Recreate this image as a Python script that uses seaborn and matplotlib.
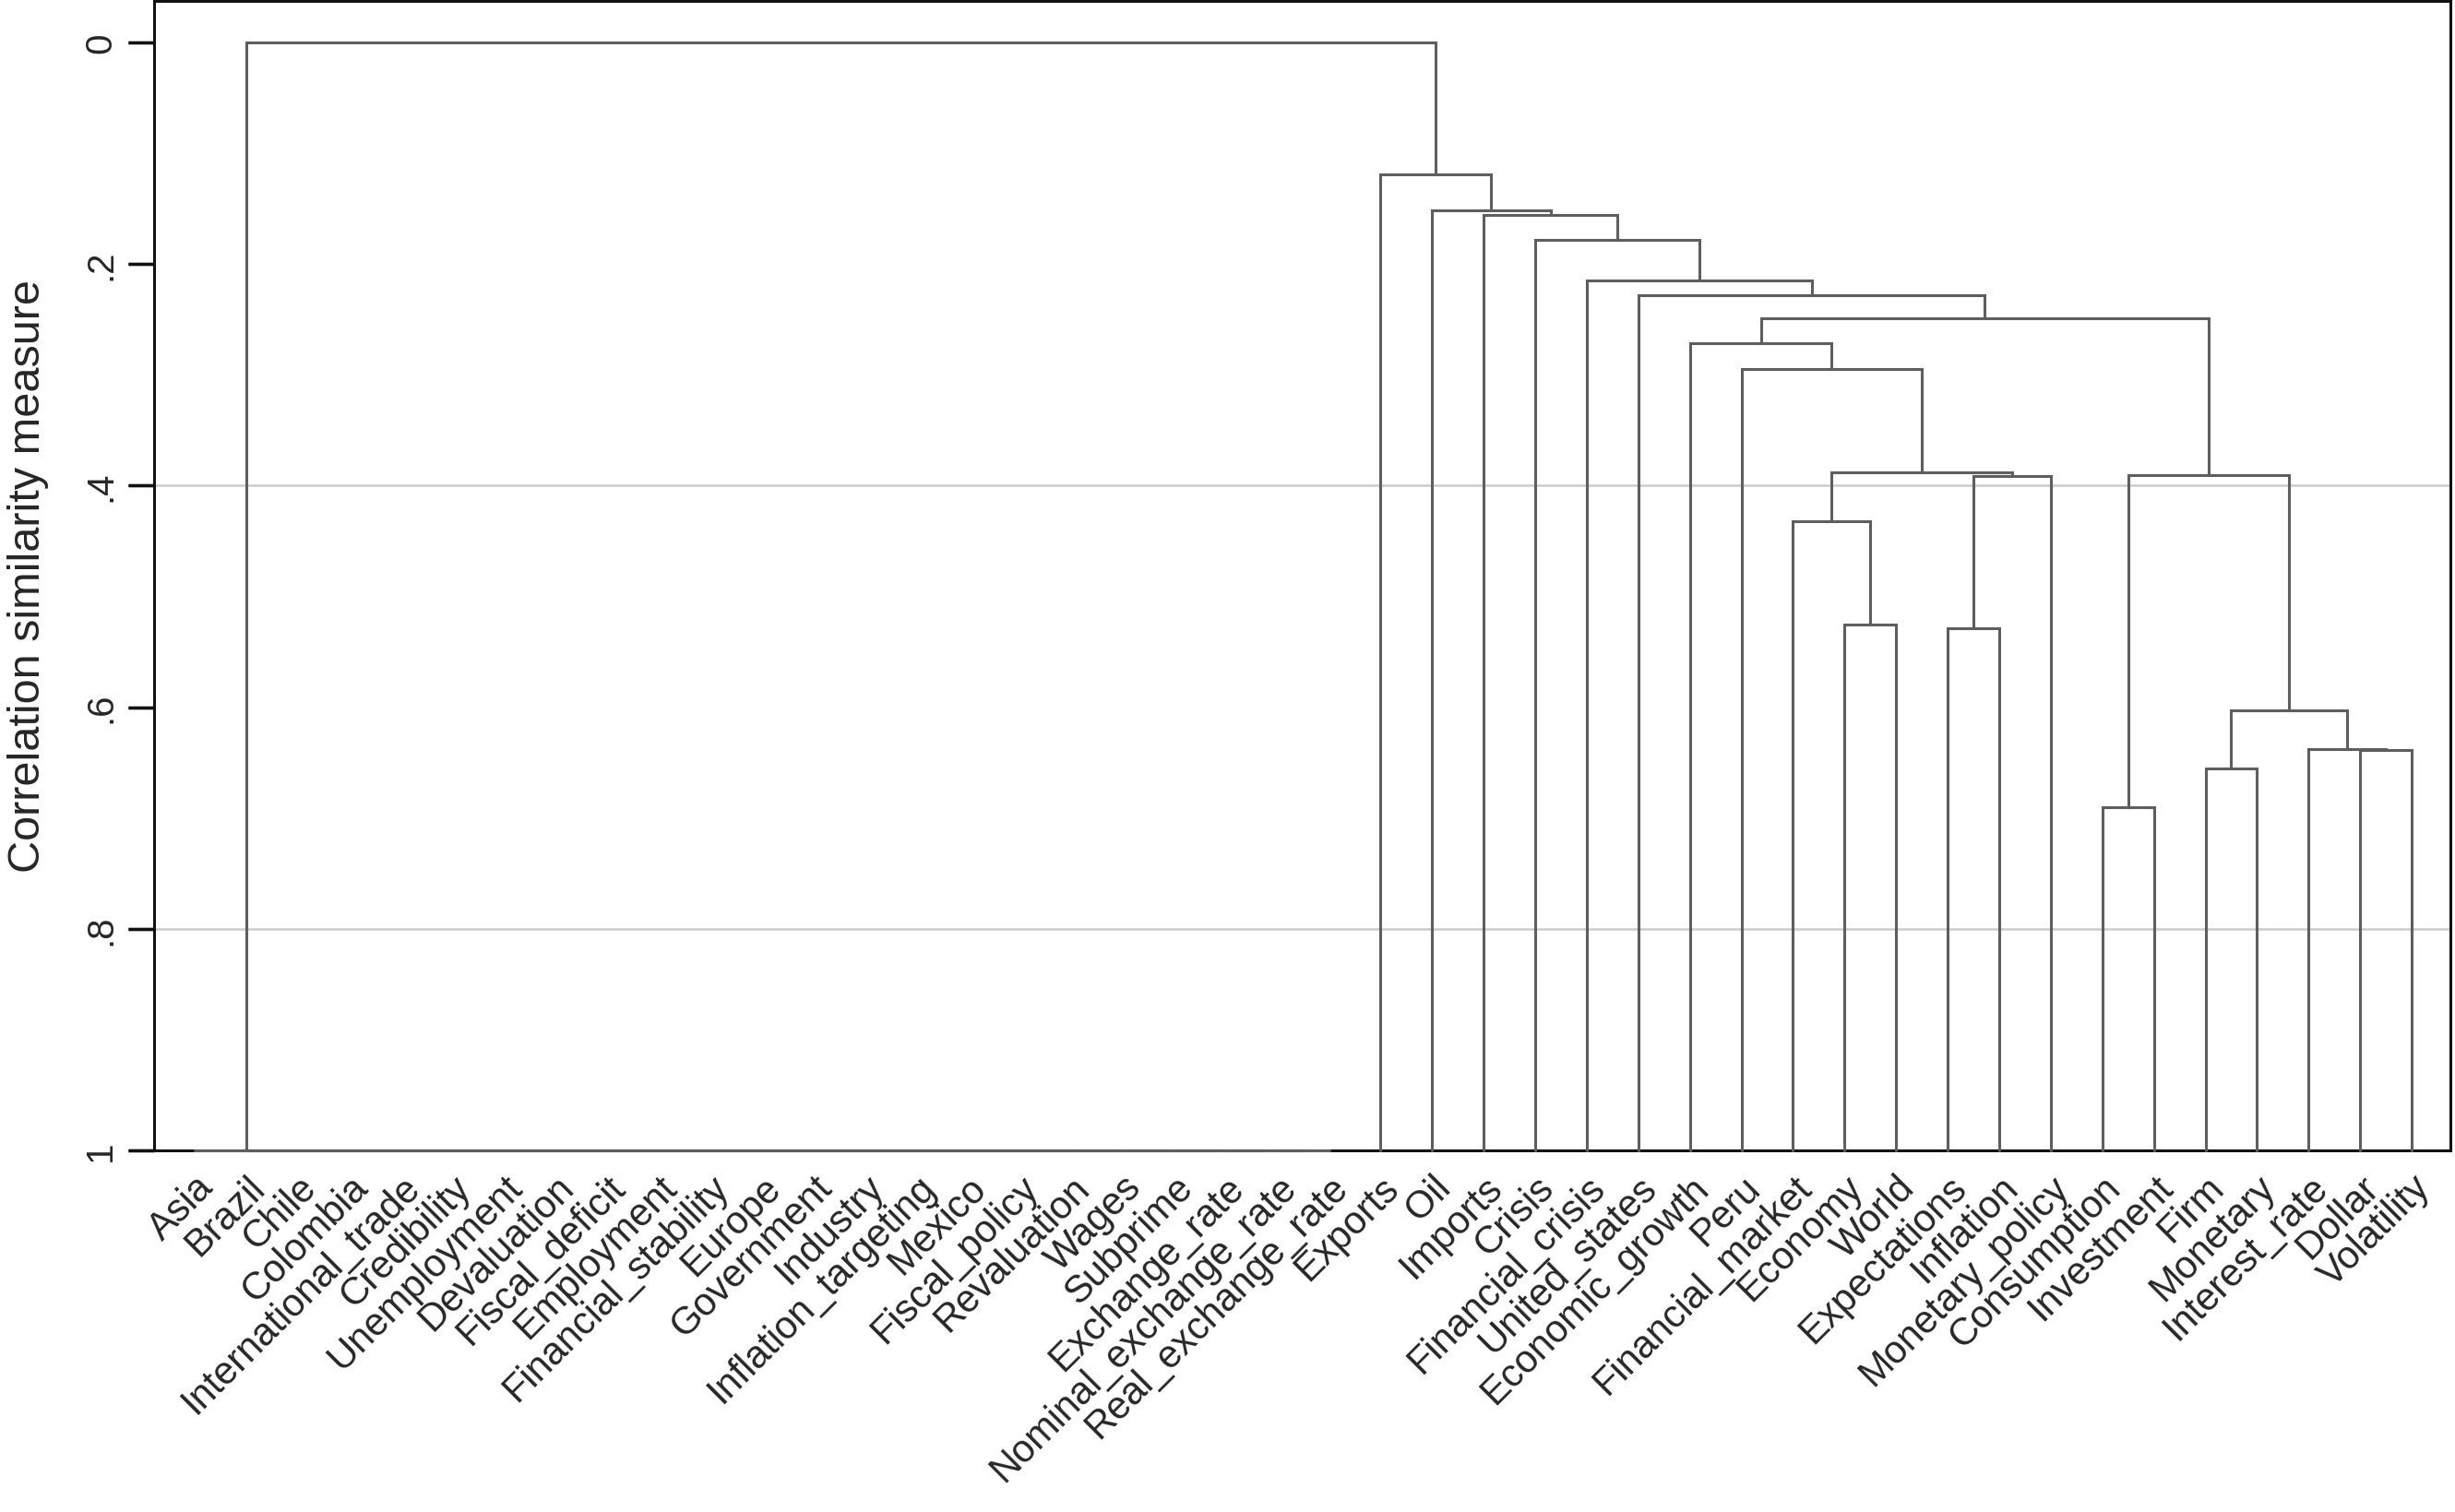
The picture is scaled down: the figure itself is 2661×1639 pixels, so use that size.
import seaborn as sns
import matplotlib.pyplot as plt
import pandas as pd

# leaf order along the x axis
terms = ['Asia', 'Brazil', 'Chile', 'Colombia', 'International_trade', 'Credibility',
         'Unemployment', 'Devaluation', 'Fiscal_deficit', 'Employment',
         'Financial_stability', 'Europe', 'Government', 'Industry', 'Inflation_targeting',
         'Mexico', 'Fiscal_policy', 'Revaluation', 'Wages', 'Subprime', 'Exchange_rate',
         'Nominal_exchange_rate', 'Real_exchange_rate', 'Exports', 'Oil', 'Imports',
         'Crisis', 'Financial_crisis', 'United_states', 'Economic_growth', 'Peru',
         'Financial_market', 'Economy', 'World', 'Expectations', 'Inflation',
         'Monetary_policy', 'Consumption', 'Investment', 'Firm', 'Monetary',
         'Interest_rate', 'Dollar', 'Volatility']

# first 23 terms all sit together at similarity 1
flat_terms = terms[:23]
flat_sim = 1.0

# other joins, bottom up: (left, right, similarity). Gk = k-th join of this list
joins = [
    ('Economy', 'World', 0.525),             # G0
    ('Expectations', 'Inflation', 0.529),    # G1
    ('Dollar', 'Volatility', 0.6385),        # G2
    ('Interest_rate', 'G2', 0.638),          # G3
    ('Firm', 'Monetary', 0.655),             # G4
    ('Consumption', 'Investment', 0.690),    # G5
    ('G4', 'G3', 0.6026),                    # G6
    ('G5', 'G6', 0.3906),                    # G7
    ('Financial_market', 'G0', 0.432),       # G8
    ('G1', 'Monetary_policy', 0.391),        # G9
    ('G8', 'G9', 0.388),                     # G10
    ('Peru', 'G10', 0.2947),                 # G11
    ('Economic_growth', 'G11', 0.2712),      # G12
    ('G12', 'G7', 0.2486),                   # G13
    ('United_states', 'G13', 0.2281),        # G14
    ('Financial_crisis', 'G14', 0.2151),     # G15
    ('Crisis', 'G15', 0.1782),               # G16
    ('Imports', 'G16', 0.156),               # G17
    ('Oil', 'G17', 0.1513),                  # G18
    ('Exports', 'G18', 0.1193),              # G19
    ('FLAT', 'G19', 0.0),                    # G20
]

ytick_vals = [0, 0.2, 0.4, 0.6, 0.8, 1]
ytick_text = ['0', '.2', '.4', '.6', '.8', '1']
grid_vals = [0.4, 0.8]

# build the link shapes
pos = {t: i + 1 for i, t in enumerate(terms)}
hgt = {t: 1.0 for t in terms}
segs = []

def join(a, b, sim, name):
    xs = [pos[a], pos[a], pos[b], pos[b]]
    ys = [hgt[a], sim, sim, hgt[b]]
    for x, y in zip(xs, ys):
        segs.append({'x': x, 'y': y, 'link': name})
    pos[name] = (pos[a] + pos[b]) / 2
    hgt[name] = sim

prev = flat_terms[-1]
for i, t in enumerate(reversed(flat_terms[:-1])):
    join(t, prev, flat_sim, 'F%d' % i)
    prev = 'F%d' % i
flat_root = prev

for k, (a, b, s) in enumerate(joins):
    a = flat_root if a == 'FLAT' else a
    join(a, b, s, 'G%d' % k)

df = pd.DataFrame(segs)

sns.set_style('ticks')
plt.rcParams['font.family'] = ['Liberation Sans', 'DejaVu Sans']

fig, ax = plt.subplots(figsize=(26.61, 16.40), dpi=100)
fig.subplots_adjust(left=167/2661, right=2656/2661, top=1-2/1640, bottom=1-1248/1640)

for g in grid_vals:
    ax.axhline(g, color='#cccccc', lw=1.8, zorder=1)

sns.lineplot(data=df, x='x', y='y', units='link', estimator=None, sort=False,
             color='#5e5e5e', lw=2.2, ax=ax, legend=False)
for ln in ax.lines[len(grid_vals):]:
    ln.set_clip_on(False)
    ln.set_zorder(3)
    ln.set_solid_joinstyle('miter')

ax.set_xlim(0.211, 44.75)
ax.set_ylim(1, -0.0375)

ax.set_xticks(range(1, len(terms) + 1))
ax.set_xticklabels(terms, rotation=45, ha='right', va='top', rotation_mode='anchor', fontsize=30)
ax.tick_params(axis='x', length=0, pad=14)

ax.set_yticks(ytick_vals)
ax.set_yticklabels(ytick_text, rotation=90, va='center', fontsize=29)
ax.tick_params(axis='y', which='major', left=True, length=20, width=2.4, pad=8,
               color='#111111', direction='out')
# same marks once more as plain strokes, in case the tick markers get lost
ytr = ax.get_yaxis_transform()
for v in ytick_vals:
    ax.plot([-0.0113, 0], [v, v], transform=ytr, color='#111111', lw=2.4,
            clip_on=False, zorder=4, solid_capstyle='butt')

ax.set_xlabel('')
ax.set_ylabel('Correlation similarity measure', fontsize=35)
ax.yaxis.set_label_coords(-0.0458, 0.5)

for sp in ax.spines.values():
    sp.set_visible(True)
    sp.set_color('#111111')
    sp.set_linewidth(2.2)

fig.savefig('out.png', dpi=100, facecolor='white')
